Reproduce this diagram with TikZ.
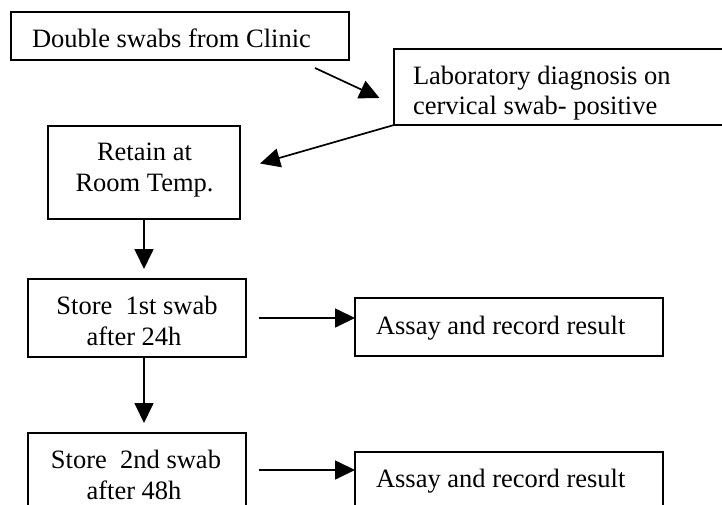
\documentclass[tikz,border=0pt]{standalone}
\usepackage{fontspec}
\setmainfont{Liberation Serif}
\usetikzlibrary{arrows.meta}

\tikzset{
  box/.style={draw, line width=1.8pt, rectangle, inner sep=0pt, outer sep=0pt},
  lbl/.style={font=\fontsize{26.5}{30}\selectfont, inner sep=0pt, outer sep=0pt},
  flow/.style={line width=1.7pt, -{Triangle[length=20pt,width=19pt]}},
}

\begin{document}
\begin{tikzpicture}[x=1pt, y=-1pt]
  % page frame (boxes running past it are cut off)
  \clip (0,0) rectangle (722,505);
  \fill[white] (0,0) rectangle (722,505);

  % boxes
  \node[box, minimum width=338pt, minimum height=48pt] (b1) at (180,36) {};
  \node[box, minimum width=346pt, minimum height=76pt] (b2) at (567,87) {};
  \node[box, minimum width=192pt, minimum height=93pt] (b3) at (144,172.5) {};
  \node[box, minimum width=218pt, minimum height=78pt] (b4) at (137,318) {};
  \node[box, minimum width=308pt, minimum height=58pt] (b5) at (509,327) {};
  \node[box, minimum width=218pt, minimum height=74pt] (b6) at (137,470) {};
  \node[box, minimum width=308pt, minimum height=68pt] (b7) at (509,486) {};

  % box texts
  \node[lbl, anchor=base west] (t1) at (32,48) {Double swabs from Clinic};
  \begin{scope}
    \clip (395,50) rectangle (722,119.5);
    \node[lbl, anchor=base west] (t2a) at (413,85) {Laboratory diagnosis on};
    \node[lbl, anchor=base west] (t2b) at (413,115) {cervical swab- positive};
  \end{scope}
  \node[lbl, anchor=base] (t3a) at (144.5,160.7) {Retain at};
  \node[lbl, anchor=base] (t3b) at (144.5,191.7) {Room Temp.};
  \node[lbl, anchor=base] (t4a) at (137,314) {Store\ \ 1st swab};
  \node[lbl, anchor=base] (t4b) at (134,345) {after 24h};
  \node[lbl, anchor=base west] (t5) at (376,334) {Assay and record result};
  \node[lbl, anchor=base] (t6a) at (136,468) {Store\ \ 2nd swab};
  \node[lbl, anchor=base] (t6b) at (134,499) {after 48h};
  \node[lbl, anchor=base west] (t7) at (376,487) {Assay and record result};

  % free ends of the slanted connectors
  \coordinate (c1s) at (315,68);
  \coordinate (c1e) at (379.5,98);
  \coordinate (c2e) at (260,163.5);

  % connectors
  \draw[flow] (c1s) -- (c1e);
  \draw[flow] (b2.south west) -- (c2e);
  \draw[flow, shorten >=10pt] (b3.south) -- (b4.north -| b3.south);
  \draw[flow, shorten <=13pt] (b4.east) -- (b4.east -| b5.west);
  \draw[flow, shorten >=10pt] (b4.south -| b3.south) -- (b6.north -| b3.south);
  \draw[flow, shorten <=13pt] (b6.east) -- (b6.east -| b7.west);
\end{tikzpicture}
\end{document}
